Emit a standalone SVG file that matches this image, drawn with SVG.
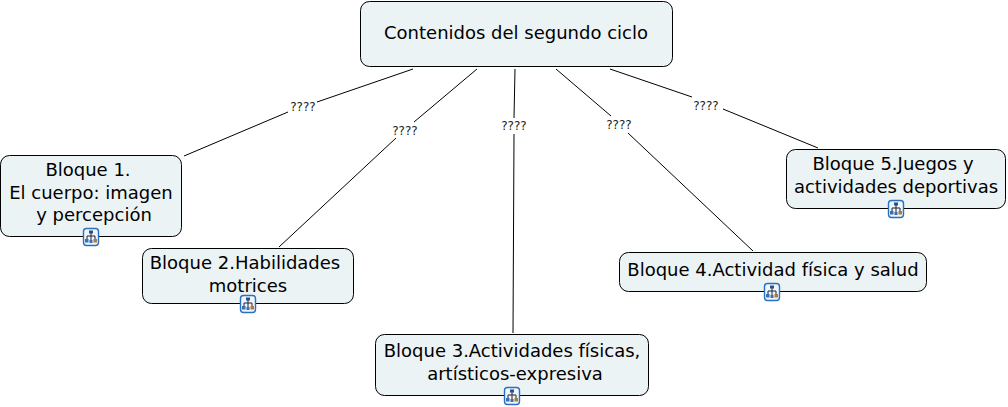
<svg xmlns="http://www.w3.org/2000/svg" width="1008" height="407" viewBox="0 0 1008 407">
<style>
.n{fill:#ecf3f5;stroke:#000;stroke-width:1}
.t{font-family:"DejaVu Sans",sans-serif;font-size:18px;fill:#000;text-anchor:middle}
.l{font-family:"DejaVu Sans",sans-serif;font-size:12px;fill:#222;text-anchor:middle}
.c{fill:none;stroke:#000;stroke-width:1}
.ib{fill:#eef5fc;stroke:#2a6fc0;stroke-width:1.4}
.ic{fill:none;stroke:#223;stroke-width:1}
</style>
<defs>
<g id="icon">
<rect class="ib" x="-7.500" y="-8.500" width="15" height="17" rx="3"/>
<path class="ic" d="M0-4V-1M-4 2V-1H4V2M0-1V3"/>
<rect x="-2" y="-6.500" width="4" height="3" fill="#2f4f80"/>
<rect x="-6" y="2" width="3.500" height="3.500" fill="#3a6fb0"/>
<rect x="2.500" y="2" width="3.500" height="3.500" fill="#b07a3a"/>
<rect x="-1.500" y="3" width="3" height="3" fill="#3a6fb0"/>
</g>
</defs>
<g id="connectors">
<path class="c" d="M413 69L317 102M288 112L184 156"/>
<path class="c" d="M477 69L414 122M396 138L279 247"/>
<path class="c" d="M515 69L514 118M514 134L513 333"/>
<path class="c" d="M556 69L611 116M628 133L753 251"/>
<path class="c" d="M610 69L692 97M723 109L818 148"/>
<text class="l" x="303" y="111">????</text>
<text class="l" x="405" y="135">????</text>
<text class="l" x="514" y="130">????</text>
<text class="l" x="619" y="129">????</text>
<text class="l" x="706" y="110">????</text>
</g>
<g id="root">
<rect class="n" x="360.500" y="1.500" width="312" height="65" rx="9"/>
<text class="t" x="516" y="39">Contenidos del segundo ciclo</text>
</g>
<g id="b1">
<rect class="n" x="0.500" y="155.500" width="181" height="81" rx="9"/>
<text class="t" x="88" y="176">Bloque 1.</text>
<text class="t" x="91" y="199">El cuerpo: imagen</text>
<text class="t" x="94" y="221">y percepción</text>
<use href="#icon" x="91" y="237"/>
</g>
<g id="b2">
<rect class="n" x="142.500" y="248.500" width="211" height="55" rx="9"/>
<text class="t" x="245" y="269">Bloque 2.Habilidades</text>
<text class="t" x="248" y="292">motrices</text>
<use href="#icon" x="248" y="304"/>
</g>
<g id="b3">
<rect class="n" x="375.500" y="334.500" width="273" height="61" rx="9"/>
<text class="t" x="512" y="357">Bloque 3.Actividades físicas,</text>
<text class="t" x="515" y="380">artísticos-expresiva</text>
<use href="#icon" x="512" y="396"/>
</g>
<g id="b4">
<rect class="n" x="619.500" y="252.500" width="307" height="39" rx="9"/>
<text class="t" x="773" y="276">Bloque 4.Actividad física y salud</text>
<use href="#icon" x="772" y="292"/>
</g>
<g id="b5">
<rect class="n" x="786.500" y="149.500" width="219" height="59" rx="9"/>
<text class="t" x="893" y="170">Bloque 5.Juegos y</text>
<text class="t" x="896" y="193">actividades deportivas</text>
<use href="#icon" x="896" y="209"/>
</g>
</svg>
